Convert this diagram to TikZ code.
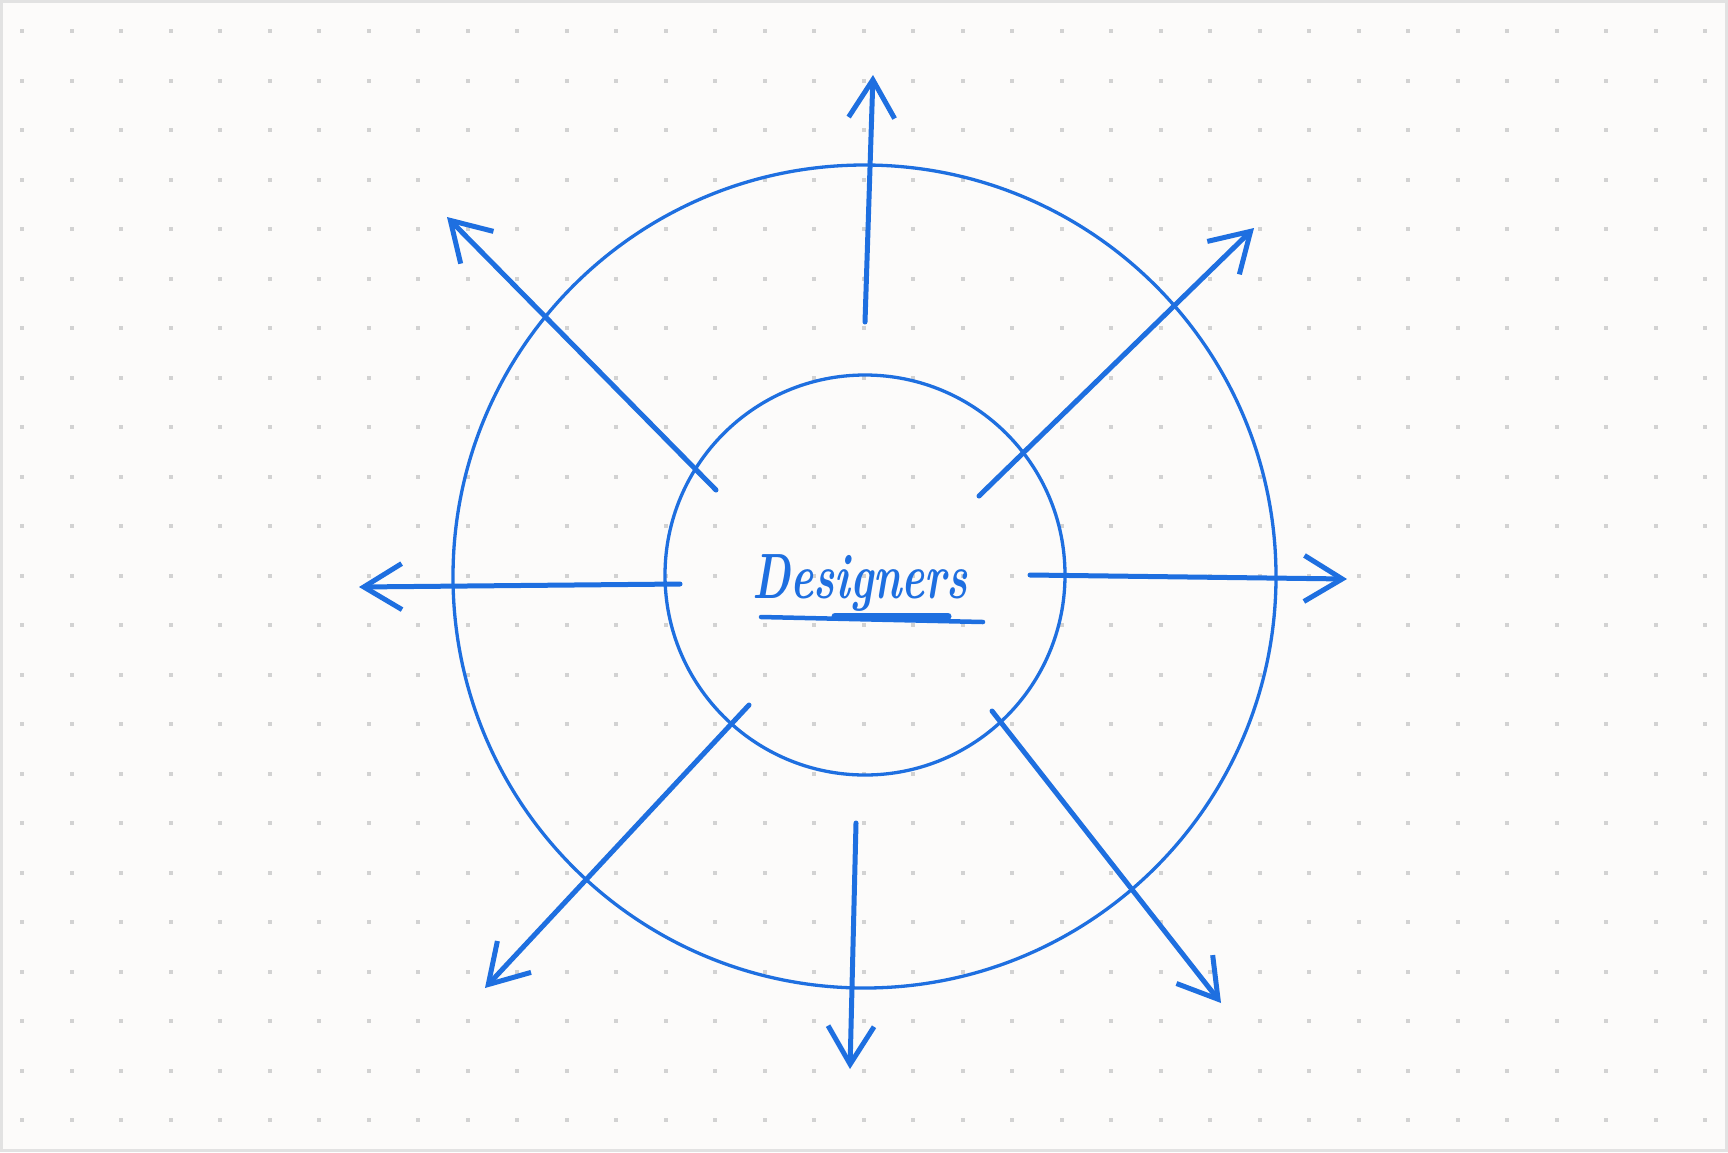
\documentclass[tikz,border=0pt]{standalone}
\usetikzlibrary{arrows.meta}
\definecolor{ink}{HTML}{1E6FE0}
\definecolor{paper}{HTML}{FCFBFA}
\definecolor{gdot}{HTML}{D2D2D2}
\definecolor{frame}{HTML}{E2E2E2}
\begin{document}
\begin{tikzpicture}[x=1pt,y=-1pt,
  ring/.style={draw=ink, line width=3.3pt, circle, inner sep=0pt},
  ray/.style={draw=ink, line width=5pt, line cap=round,
    -{Straight Barb[length=38pt,width=46pt,line width=5pt]}}]
\useasboundingbox (0,0) rectangle (1728,1152);
\fill[paper] (0,0) rectangle (1728,1152);
\draw[frame, line width=3pt] (1.5,1.5) rectangle (1726.5,1150.5);
\foreach \i in {0,...,34} \foreach \j in {0,...,22}
  \fill[gdot] ({22+49.5*\i-2},{31+49.5*\j-2}) rectangle ++(4,4);

\node[ring, minimum size=823pt] (outer) at (864.5,576.5) {};
\node[ring, minimum size=400pt] (inner) at (865,575) {};

\node[text=ink, anchor=base, font=\fontsize{64}{64}\selectfont\bfseries\itshape, xscale=0.68] (lbl) at (860,598) {Designers};
\draw[ink, line width=4.5pt, line cap=round] (761,617) -- (983,622);
\draw[ink, line width=7pt, line cap=round] (835,616) -- (948,616);

% ray endpoints
\coordinate (sN) at (865,322);   \coordinate (eN) at (873,75);
\coordinate (sNW) at (716,490);  \coordinate (eNW) at (447,217);
\coordinate (sNE) at (979,496);  \coordinate (eNE) at (1254,228);
\coordinate (sW) at (680,584);   \coordinate (eW) at (359,587);
\coordinate (sE) at (1030,575);  \coordinate (eE) at (1347,579);
\coordinate (sSW) at (749,705);  \coordinate (eSW) at (485,988);
\coordinate (sS) at (856,823);   \coordinate (eS) at (850,1069);
\coordinate (sSE) at (992,711);  \coordinate (eSE) at (1221,1003);

\foreach \d in {N,NW,NE,W,E,SW,S,SE}
  \draw[ray] (s\d) -- (e\d);
\end{tikzpicture}
\end{document}
